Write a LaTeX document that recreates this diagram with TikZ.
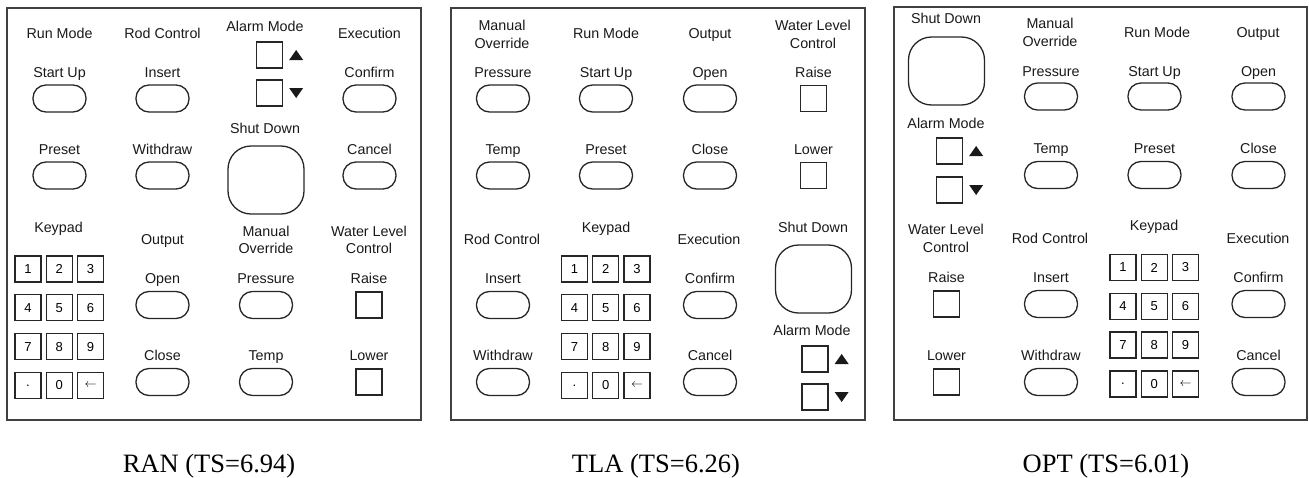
\documentclass[tikz,border=0pt]{standalone}
\usepackage{fontspec}
\setmainfont{Liberation Sans}
\newfontfamily\capfont{Liberation Serif}
\newcommand\mykeypad[3]{%
  \foreach \lab [count=\i from 0] in {1,2,3,4,5,6,7,8,9,.,0,$\leftarrow$}{%
    \pgfmathsetmacro\kx{#2+mod(\i,3)*31.3}%
    \pgfmathsetmacro\ky{#3+int(\i/3)*38.8}%
    \node[keybtn] (#1k\i) at (\kx,\ky) {\lab};
  }}
\newcommand\uptri[1]{\fill[black!90,shift={(#1.east)}] (6,5) -- (20,5) -- (13,-5) -- cycle;}
\newcommand\dntri[1]{\fill[black!90,shift={(#1.east)}] (6,-5) -- (20,-5) -- (13,5) -- cycle;}
\begin{document}
\begin{tikzpicture}[x=1pt,y=-1pt,
  lab/.style={font=\fontsize{14.3}{17.5}\selectfont, text=black!90, inner sep=0pt, anchor=base, align=center},
  pill/.style={draw=black!85, line width=1.3pt, rounded corners=13pt, minimum width=53pt, minimum height=27pt, inner sep=0pt},
  sq/.style={draw=black!85, line width=1.3pt, minimum size=26pt, inner sep=0pt},
  keybtn/.style={sq, font=\fontsize{13}{15}\selectfont},
  big/.style={draw=black!85, line width=1.3pt, rounded corners=23pt, minimum width=76pt, minimum height=68pt, inner sep=0pt},
  panel/.style={draw=black!75, line width=1.4pt},
  captxt/.style={font=\capfont\fontsize{26.5}{30}\selectfont, anchor=base, inner sep=0pt}]
\useasboundingbox (0,0) rectangle (1309,477);
% ---------- panel 1 : RAN ----------
\draw[panel] (7,8) rectangle (421,420);
\node[lab] (a-run) at (59.5,38) {Run Mode};
\node[lab] (a-rod) at (162.5,38) {Rod Control};
\node[lab] (a-alarm) at (265,31) {Alarm Mode};
\node[lab] (a-exec) at (369.5,38) {Execution};
\node[lab] (a-startl) at (59.5,77) {Start Up};
\node[pill] (a-start) at (59.5,98.5) {};
\node[lab] (a-insl) at (162.5,77) {Insert};
\node[pill] (a-ins) at (162.5,98.5) {};
\node[lab] (a-confl) at (369.5,77) {Confirm};
\node[pill] (a-conf) at (369.5,98.5) {};
\node[sq] (a-up) at (269.5,55) {};
\node[sq] (a-dn) at (269.5,93) {};
\uptri{a-up}
\dntri{a-dn}
\node[lab] (a-shutl) at (265,133) {Shut Down};
\node[big] (a-shut) at (266,180) {};
\node[lab] (a-prel) at (59.5,154) {Preset};
\node[pill] (a-pre) at (59.5,175.5) {};
\node[lab] (a-wdl) at (162.5,154) {Withdraw};
\node[pill] (a-wd) at (162.5,175.5) {};
\node[lab] (a-canl) at (369.5,154) {Cancel};
\node[pill] (a-can) at (369.5,175.5) {};
\node[lab] (a-key) at (58.5,232) {Keypad};
\mykeypad{a}{28}{269}
\node[lab] (a-out) at (162.5,244) {Output};
\node[lab] (a-openl) at (162.5,283) {Open};
\node[pill] (a-open) at (162.5,305) {};
\node[lab] (a-closel) at (162.5,360) {Close};
\node[pill] (a-close) at (162.5,382) {};
\node[lab] (a-man) at (266,253.5) {Manual\\Override};
\node[lab] (a-presl) at (266,283) {Pressure};
\node[pill] (a-pres) at (266,305) {};
\node[lab] (a-templ) at (266,360) {Temp};
\node[pill] (a-temp) at (266,382) {};
\node[lab] (a-wl) at (369,253.5) {Water Level\\Control};
\node[lab] (a-raisel) at (369,283) {Raise};
\node[sq] (a-raise) at (369,305) {};
\node[lab] (a-lowl) at (369,360) {Lower};
\node[sq] (a-low) at (369,382) {};
\node[captxt] (a-cap) at (209,472) {RAN (TS=6.94)};
% ---------- panel 2 : TLA ----------
\draw[panel] (451,8) rectangle (865,420);
\node[lab] (b-man) at (502,48) {Manual\\Override};
\node[lab] (b-run) at (606,38) {Run Mode};
\node[lab] (b-out) at (710,38) {Output};
\node[lab] (b-wl) at (813,48) {Water Level\\Control};
\node[lab] (b-presl) at (503,77) {Pressure};
\node[pill] (b-pres) at (503,98.5) {};
\node[lab] (b-startl) at (606,77) {Start Up};
\node[pill] (b-start) at (606,98.5) {};
\node[lab] (b-openl) at (710,77) {Open};
\node[pill] (b-open) at (710,98.5) {};
\node[lab] (b-raisel) at (813.5,77) {Raise};
\node[sq] (b-raise) at (813.5,98.5) {};
\node[lab] (b-templ) at (503,154) {Temp};
\node[pill] (b-temp) at (503,175.5) {};
\node[lab] (b-prel) at (606,154) {Preset};
\node[pill] (b-pre) at (606,175.5) {};
\node[lab] (b-closel) at (710,154) {Close};
\node[pill] (b-close) at (710,175.5) {};
\node[lab] (b-lowl) at (813.5,154) {Lower};
\node[sq] (b-low) at (813.5,175.5) {};
\node[lab] (b-rod) at (502,244) {Rod Control};
\node[lab] (b-key) at (606,232) {Keypad};
\node[lab] (b-exec) at (709,244) {Execution};
\node[lab] (b-shutl) at (813,232) {Shut Down};
\node[lab] (b-insl) at (503,283) {Insert};
\node[pill] (b-ins) at (503,305) {};
\node[lab] (b-wdl) at (503,360) {Withdraw};
\node[pill] (b-wd) at (503,382) {};
\mykeypad{b}{574.5}{269}
\node[lab] (b-confl) at (710,283) {Confirm};
\node[pill] (b-conf) at (710,305) {};
\node[lab] (b-canl) at (710,360) {Cancel};
\node[pill] (b-can) at (710,382) {};
\node[big] (b-shut) at (813.5,279) {};
\node[lab] (b-alarm) at (812,335) {Alarm Mode};
\node[sq] (b-up) at (815,359) {};
\node[sq] (b-dn) at (815,397) {};
\uptri{b-up}
\dntri{b-dn}
\node[captxt] (b-cap) at (656,472) {TLA (TS=6.26)};
% ---------- panel 3 : OPT ----------
\draw[panel] (894,7) rectangle (1307,420);
\node[lab] (c-shutl) at (946,23) {Shut Down};
\node[big] (c-shut) at (946.5,71) {};
\node[lab] (c-man) at (1050,46) {Manual\\Override};
\node[lab] (c-run) at (1157,37) {Run Mode};
\node[lab] (c-out) at (1258,37) {Output};
\node[lab] (c-presl) at (1051,76) {Pressure};
\node[pill] (c-pres) at (1051,96.5) {};
\node[lab] (c-startl) at (1154.5,76) {Start Up};
\node[pill] (c-start) at (1154.5,96.5) {};
\node[lab] (c-openl) at (1258.5,76) {Open};
\node[pill] (c-open) at (1258.5,96.5) {};
\node[lab] (c-alarm) at (946,128) {Alarm Mode};
\node[sq] (c-up) at (949.5,151) {};
\node[sq] (c-dn) at (949.5,190) {};
\uptri{c-up}
\dntri{c-dn}
\node[lab] (c-templ) at (1051,153) {Temp};
\node[pill] (c-temp) at (1051,175) {};
\node[lab] (c-prel) at (1154.5,153) {Preset};
\node[pill] (c-pre) at (1154.5,175) {};
\node[lab] (c-closel) at (1258.5,153) {Close};
\node[pill] (c-close) at (1258.5,175) {};
\node[lab] (c-wl) at (946,252) {Water Level\\Control};
\node[lab] (c-rod) at (1050,243) {Rod Control};
\node[lab] (c-key) at (1154,230) {Keypad};
\node[lab] (c-exec) at (1258,243) {Execution};
\node[lab] (c-raisel) at (946.5,282) {Raise};
\node[sq] (c-raise) at (946.5,304) {};
\node[lab] (c-insl) at (1051,282) {Insert};
\node[pill] (c-ins) at (1051,304) {};
\node[lab] (c-confl) at (1258.5,282) {Confirm};
\node[pill] (c-conf) at (1258.5,304) {};
\node[lab] (c-lowl) at (946.5,360) {Lower};
\node[sq] (c-low) at (946.5,382) {};
\node[lab] (c-wdl) at (1051,360) {Withdraw};
\node[pill] (c-wd) at (1051,382) {};
\node[lab] (c-canl) at (1258.5,360) {Cancel};
\node[pill] (c-can) at (1258.5,382) {};
\mykeypad{c}{1123}{267.5}
\node[captxt] (c-cap) at (1106,472) {OPT (TS=6.01)};
\end{tikzpicture}
\end{document}
